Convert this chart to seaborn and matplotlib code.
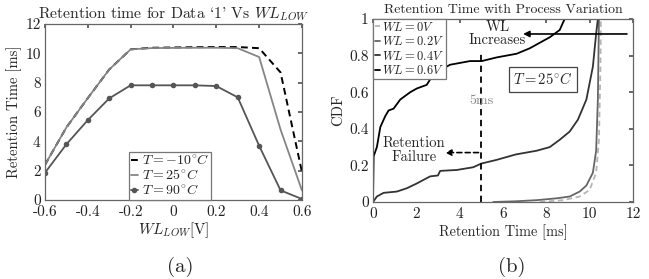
import numpy as np
import pandas as pd
import matplotlib
matplotlib.use("Agg")
import matplotlib.pyplot as plt
from matplotlib.font_manager import FontProperties
import seaborn as sns

# ---------------- data: panel (a) ----------------
wl_low = [-0.6, -0.5, -0.4, -0.3, -0.2, -0.1, 0.0, 0.1, 0.2, 0.3, 0.4, 0.5, 0.6]
ret_m10 = [2.4, 4.95, 6.95, 8.9, 10.27, 10.38, 10.4, 10.42, 10.43, 10.43, 10.35, 8.7, 1.9]
ret_25 = [2.4, 4.95, 6.95, 8.9, 10.27, 10.36, 10.37, 10.38, 10.38, 10.35, 9.75, 4.8, 0.65]
ret_90 = [1.86, 3.8, 5.45, 6.93, 7.82, 7.82, 7.82, 7.82, 7.77, 7.0, 3.7, 0.66, 0.07]
labels_a = [r"$T = -10^{\circ}C$", r"$T = 25^{\circ}C$", r"$T = 90^{\circ}C$"]

# ---------------- data: panel (b) ----------------
t_wl0 = [7.7, 8.77, 9.54, 10.0, 10.3, 10.43, 10.5, 10.52]
cdf_wl0 = [0.0, 0.01, 0.03, 0.066, 0.16, 0.34, 0.74, 1.0]
t_wl02 = [5.55, 6.6, 7.55, 8.47, 9.08, 9.54, 9.85, 10.15, 10.3, 10.38, 10.43]
cdf_wl02 = [0.0, 0.004, 0.01, 0.02, 0.03, 0.057, 0.09, 0.16, 0.28, 0.56, 1.0]
t_wl04 = [0.0, 0.18, 0.49, 1.1, 1.56, 2.0, 2.64, 3.0, 3.1, 3.87, 4.63, 5.0, 5.7, 6.6, 7.55,
          8.16, 8.62, 9.08, 9.46, 9.85, 10.15, 10.3, 10.38]
cdf_wl04 = [0.0, 0.03, 0.05, 0.057, 0.075, 0.1, 0.14, 0.145, 0.17, 0.175, 0.19, 0.21, 0.23,
            0.26, 0.28, 0.30, 0.34, 0.385, 0.45, 0.56, 0.74, 0.92, 1.0]
t_wl06 = [0.0, 0.03, 0.18, 0.34, 0.57, 0.72, 0.95, 1.26, 1.72, 2.02, 2.48, 2.64, 2.94,
          3.25, 3.56, 4.48, 5.02, 5.71, 6.63, 7.24, 7.85, 8.16, 8.62, 8.77, 8.85]
cdf_wl06 = [0.0, 0.25, 0.3, 0.41, 0.47, 0.5, 0.51, 0.56, 0.6, 0.62, 0.64, 0.67, 0.7,
            0.73, 0.75, 0.77, 0.77, 0.79, 0.81, 0.84, 0.88, 0.9, 0.94, 0.98, 1.0]
labels_b = [r"$WL = 0V$", r"$WL = 0.2V$", r"$WL = 0.4V$", r"$WL = 0.6V$"]

sns.set_theme(style="white")
plt.rcParams.update({
    "font.family": ["cmr10", "DejaVu Serif"],
    "mathtext.fontset": "cm",
    "axes.formatter.use_mathtext": True,
    "axes.unicode_minus": False,
    "font.size": 11,
    "xtick.direction": "in",
    "ytick.direction": "in",
    "xtick.top": True,
    "ytick.right": True,
    "xtick.major.size": 3,
    "ytick.major.size": 3,
    "xtick.major.pad": 4,
    "ytick.major.pad": 3,
    "xtick.color": "#555555",
    "ytick.color": "#555555",
    "xtick.labelcolor": "#222222",
    "ytick.labelcolor": "#222222",
    "axes.edgecolor": "#666666",
    "axes.linewidth": 0.9,
})

fig = plt.figure(figsize=(6.49, 2.79), dpi=100)
ax1 = fig.add_axes([0.0693, 0.283, 0.396, 0.631])
ax2 = fig.add_axes([0.5747, 0.276, 0.4006, 0.656])

# ---------- panel (a) ----------
n = len(wl_low)
dfa = pd.DataFrame({
    "x": wl_low * 3,
    "y": ret_m10 + ret_25 + ret_90,
    "s": [labels_a[0]] * n + [labels_a[1]] * n + [labels_a[2]] * n,
})
sns.lineplot(data=dfa[dfa.s == labels_a[0]], x="x", y="y", ax=ax1, color="black",
             linestyle=(0, (3.5, 2.2)), linewidth=1.4, label=labels_a[0], estimator=None)
sns.lineplot(data=dfa[dfa.s == labels_a[1]], x="x", y="y", ax=ax1, color="#858585",
             linewidth=1.3, label=labels_a[1], estimator=None)
sns.lineplot(data=dfa[dfa.s == labels_a[2]], x="x", y="y", ax=ax1, color="#555555",
             linewidth=1.3, marker="o", markersize=4, markeredgewidth=0,
             label=labels_a[2], estimator=None)
ax1.set_xlim(-0.6, 0.6)
ax1.set_ylim(0, 12)
ax1.set_xticks([-0.6, -0.4, -0.2, 0, 0.2, 0.4, 0.6])
ax1.set_xticklabels(["-0.6", "-0.4", "-0.2", "0", "0.2", "0.4", "0.6"])
ax1.set_yticks(range(0, 13, 2))
ax1.set_yticklabels([str(v) for v in range(0, 13, 2)])
ax1.set_title(r"Retention time for Data `1' Vs $WL_{LOW}$", fontsize=11.3, pad=4)
ax1.set_xlabel(r"$WL_{LOW}$[V]", fontsize=11, labelpad=1)
ax1.set_ylabel("Retention Time [ms]", fontsize=10.6)
ax1.yaxis.set_label_coords(-0.088, 0.5)
leg1 = ax1.legend(loc="lower left", bbox_to_anchor=(0.325, 0.0), fontsize=10,
                  handlelength=0.55, handletextpad=0.25, borderpad=0.15, labelspacing=0.05,
                  fancybox=False, framealpha=1, edgecolor="#777777", borderaxespad=0)
leg1.get_frame().set_linewidth(0.9)

# ---------- panel (b) ----------
series_b = [(t_wl0, cdf_wl0, "#b5b5b5", (0, (3, 2))),
            (t_wl02, cdf_wl02, "#666666", "-"),
            (t_wl04, cdf_wl04, "#333333", "-"),
            (t_wl06, cdf_wl06, "#000000", "-")]
for (t, c, col, ls), lab in zip(series_b, labels_b):
    d = pd.DataFrame({"t": t, "c": c})
    sns.lineplot(data=d, x="t", y="c", ax=ax2, color=col, linestyle=ls, linewidth=1.3,
                 label=lab, estimator=None, sort=False)
ax2.set_xlim(0, 12)
ax2.set_ylim(0, 1)
ax2.set_xticks(range(0, 13, 2))
ax2.set_xticklabels([str(v) for v in range(0, 13, 2)])
ax2.set_yticks([0, 0.2, 0.4, 0.6, 0.8, 1])
ax2.set_yticklabels(["0", "0.2", "0.4", "0.6", "0.8", "1"])
ax2.set_title("Retention Time with Process Variation", fontsize=10, pad=4)
ax2.set_xlabel("Retention Time [ms]", fontsize=10.3, labelpad=2)
ax2.set_ylabel("CDF", fontsize=10.6, labelpad=3)
leg2 = ax2.legend(loc="upper left", fontsize=9, handlelength=0.4, handletextpad=0.2,
                  borderpad=0.15, labelspacing=0.12, fancybox=False, framealpha=1,
                  edgecolor="#777777", borderaxespad=0)
leg2.get_frame().set_linewidth(0.9)

ax2.plot([5, 5], [0, 0.82], color="black", linestyle=(0, (3.5, 2.5)), linewidth=1.3)
ax2.text(5, 0.55, "5ms", color="#888888", ha="center", va="center", fontsize=10)
ax2.annotate("", xy=(3.2, 0.27), xytext=(5, 0.27),
             arrowprops=dict(arrowstyle="-|>", linestyle=(0, (3, 2)), color="black",
                             lw=1.2, mutation_scale=9))
ax2.text(1.9, 0.285, "Retention\nFailure", ha="center", va="center", fontsize=10.5,
         linespacing=1.0)
ax2.annotate("", xy=(6.8, 0.918), xytext=(11.85, 0.918),
             arrowprops=dict(arrowstyle="-|>", color="black", lw=1.2, mutation_scale=9))
ax2.text(5.75, 0.92, "WL\nIncreases", ha="center", va="center", fontsize=10.5,
         linespacing=1.0)
ax2.text(7.85, 0.67, r"$T = 25^{\circ}C$", ha="center", va="center", fontsize=10.5,
         bbox=dict(boxstyle="square,pad=0.3", fc="white", ec="#444444", lw=0.9))

fp = FontProperties(family=["cmr10"], size=15)
fig.text(180 / 649, 1 - 267 / 279, "(a)", ha="center", va="center", fontproperties=fp)
fig.text(512 / 649, 1 - 267 / 279, "(b)", ha="center", va="center", fontproperties=fp)

fig.savefig("out.png", dpi=100)
